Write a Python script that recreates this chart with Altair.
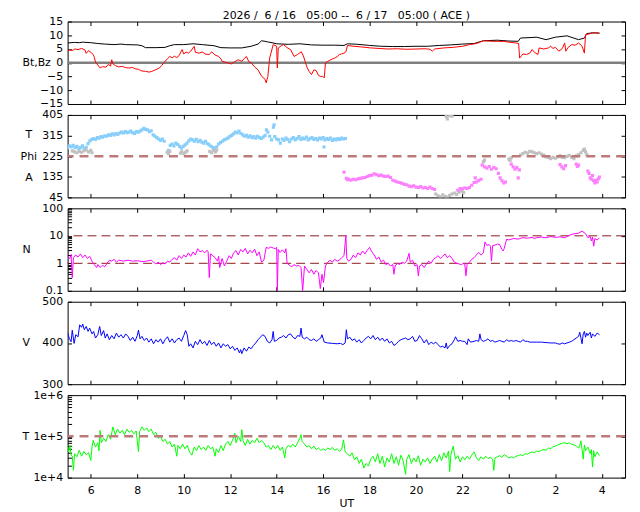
import altair as alt
import pandas as pd

# ---------------- data (hours since 6/16 00:00 UT; 24+ = 6/17) ----------------
hour_ticks = [6, 8, 10, 12, 14, 16, 18, 20, 22, 24, 26, 28]

bt = [(5.0,7.2),(5.3,7.4),(5.5,7.3),(5.65,7.5),(6.0,7.3),(6.3,7.0),(6.6,6.8),(7.0,6.6),(7.3,6.8),(7.5,6.6),(8.0,6.5),(8.2,6.2),(8.35,5.5),
      (8.8,5.5),(9.2,5.6),(9.4,6.2),(9.6,6.6),(10.0,6.6),(10.4,6.9),(10.8,6.6),(11.3,6.2),(11.6,5.5),(12.0,5.4),(12.5,5.4),(12.9,6.0),
      (13.2,6.8),(13.35,8.0),(13.5,7.8),(13.6,7.6),(13.8,7.3),(14.0,6.9),(14.5,6.7),(15.0,6.9),(15.5,6.5),(16.0,6.4),(16.5,6.4),
      (16.9,6.3),(17.05,6.9),(17.5,6.7),(18.0,6.3),(18.5,6.0),(19.0,5.9),(19.5,5.9),(20.0,6.0),(20.5,6.0),(21.0,6.3),
      (21.5,6.5),(22.0,6.8),(22.5,7.0),(22.9,8.0),(23.5,8.2),(24.0,7.9),(24.4,7.8),(24.5,9.0),(25.0,9.2),(25.2,9.3),
      (25.6,8.4),(26.0,9.3),(26.5,9.8),(27.0,8.4),(27.25,9.0),(27.35,10.6),(27.6,10.9),(27.9,10.8)]

bz = [(5.0,4.2),(5.1,4.7),(5.2,4.4),(5.3,5.0),(5.45,4.8),(5.6,5.2),(5.66,5.0),(5.75,4.6),(5.8,3.4),(5.9,4.4),
      (6.0,3.8),(6.1,3.0),(6.15,2.0),(6.2,0.2),(6.3,-0.8),(6.4,-1.9),(6.5,-1.4),(6.65,-1.6),(6.75,-0.6),(6.85,-1.2),
      (6.9,1.1),(6.95,-0.4),(7.05,-1.0),(7.2,-1.5),(7.35,-1.3),(7.5,-1.8),(7.65,-1.9),(7.8,-1.7),(7.9,-2.2),(8.05,-2.4),
      (8.2,-3.0),(8.35,-3.1),(8.5,-3.4),(8.6,-3.2),(8.75,-2.7),(8.95,-1.9),(9.05,-1.0),(9.2,0.5),(9.3,1.5),(9.4,2.3),
      (9.5,1.8),(9.6,2.4),(9.7,1.9),(9.8,2.6),(9.93,4.8),(10.0,3.2),(10.1,3.9),(10.2,3.5),(10.3,4.2),(10.45,6.0),
      (10.5,3.8),(10.65,3.5),(10.8,3.9),(10.95,3.1),(11.1,3.0),(11.2,4.0),(11.35,2.8),(11.5,2.3),(11.6,1.4),(11.65,0.5),
      (11.8,0.2),(11.95,-0.2),(12.05,-0.4),(12.2,0.4),(12.35,1.1),(12.5,0.5),(12.6,1.5),(12.7,2.3),(12.8,0.4),(12.9,0.0),
      (13.05,-1.5),(13.2,-2.6),(13.35,-4.9),(13.5,-6.0),(13.55,-7.3),(13.62,-5.0),(13.7,1.7),(13.85,6.6),(14.0,6.0),(14.03,-1.9),
      (14.07,5.4),(14.2,6.2),(14.3,6.6),(14.45,5.5),(14.6,4.8),(14.75,2.3),(14.9,3.0),(15.06,4.0),(15.15,2.5),(15.3,-1.5),
      (15.4,-3.2),(15.5,-4.3),(15.6,-2.6),(15.7,-2.8),(15.8,-4.6),(15.9,-5.0),(15.98,-4.9),(16.05,-5.5),(16.1,0.0),(16.2,0.5),
      (16.35,1.2),(16.5,1.7),(16.6,2.2),(16.7,3.0),(16.8,3.2),(16.9,3.5),(16.98,4.0),(17.05,6.3),(17.3,6.0),(17.6,5.8),
      (18.05,5.4),(18.4,5.2),(18.8,5.0),(19.2,5.1),(19.6,4.9),(20.0,5.0),(20.4,5.1),(20.6,4.9),(20.7,4.2),(20.8,5.0),
      (21.2,5.4),(21.6,5.6),(22.0,6.0),(22.3,6.6),(22.6,7.0),(22.9,8.0),(23.3,7.8),(23.75,7.8),(24.0,7.5),(24.3,7.2),
      (24.42,7.0),(24.46,1.7),(24.55,2.6),(24.6,3.2),(24.75,3.0),(24.9,3.5),(25.0,4.8),(25.1,3.8),(25.25,3.0),(25.3,5.4),
      (25.5,5.0),(25.7,5.4),(25.8,6.0),(25.9,5.2),(26.0,5.6),(26.15,4.2),(26.3,5.2),(26.4,7.2),(26.45,4.2),(26.55,5.6),
      (26.7,6.6),(26.85,6.4),(27.0,7.2),(27.15,6.0),(27.25,3.5),(27.3,10.2),(27.5,10.6),(27.7,10.9),(27.9,10.7)]

phi_blue = [(5.0,262),(5.08,270),(5.16,266),(5.24,272),(5.32,262),(5.4,268),(5.48,258),(5.56,262),(5.64,270),(5.72,258),
            (5.8,264),(5.88,280),(5.96,292),(6.04,298),(6.12,302),(6.2,298),(6.28,306),(6.36,304),(6.44,310),(6.52,308),
            (6.6,314),(6.68,312),(6.76,318),(6.84,316),(6.92,322),(7.0,318),(7.08,324),(7.16,320),(7.24,326),(7.32,330),
            (7.4,326),(7.48,332),(7.56,328),(7.64,330),(7.72,334),(7.8,328),(7.88,324),(7.96,332),(8.04,330),(8.12,334),
            (8.2,340),(8.28,346),(8.36,342),(8.44,340),(8.52,332),(8.6,336),(8.68,318),(8.76,312),(8.84,306),(8.92,300),
            (9.0,294),(9.08,300),(9.16,290),(9.34,250),(9.42,272),(9.5,278),(9.58,270),(9.66,282),(9.74,276),(9.82,268),
            (9.9,260),(9.98,268),(10.06,274),(10.14,282),(10.22,292),(10.3,300),(10.38,296),(10.46,290),(10.54,298),(10.62,288),
            (10.7,294),(10.78,286),(10.86,282),(10.94,290),(11.02,280),(11.1,274),(11.18,268),(11.26,262),(11.34,258),(11.42,266),
            (11.5,278),(11.58,284),(11.66,290),(11.74,296),(11.82,300),(11.9,304),(11.98,310),(12.06,316),(12.14,322),(12.22,330),
            (12.3,326),(12.38,334),(12.46,324),(12.54,318),(12.62,312),(12.7,316),(12.78,308),(12.86,314),(12.94,306),(13.02,310),
            (13.1,304),(13.18,312),(13.26,306),(13.34,302),(13.42,308),(13.5,316),(13.56,340),(13.62,330),(13.7,312),(13.78,296),
            (13.86,352),(13.89,362),(13.92,310),(14.0,300),(14.08,296),(14.16,282),(14.24,300),(14.32,294),(14.4,304),(14.48,298),
            (14.56,288),(14.64,300),(14.72,306),(14.8,296),(14.88,302),(14.96,310),(15.04,298),(15.12,304),(15.2,300),(15.28,308),
            (15.36,296),(15.44,302),(15.52,306),(15.6,298),(15.68,302),(15.76,296),(15.84,304),(15.92,300),(16.0,306),(16.04,265),
            (16.08,296),(16.16,302),(16.24,298),(16.32,304),(16.4,294),(16.48,300),(16.56,296),(16.64,302),(16.72,298),(16.8,304),
            (16.88,300),(16.96,302)]

phi_gray = [(5.2,248),(5.3,244),(5.4,240),(5.5,246),(5.6,242),(5.7,248),(5.8,252),(5.9,244),(6.0,250),(6.05,240),
            (9.28,242),(9.34,236),(9.4,246),(9.86,238),(9.92,244),(10.0,236),(10.08,242),(10.14,248),
            (11.12,246),(11.2,240),(11.28,250),(11.36,244),(11.42,252),
            (20.85,60),(20.95,52),(21.05,48),(21.15,56),(21.25,50),(21.35,46),(21.45,54),(21.55,60),(21.65,64),(21.75,58),
            (21.85,68),(21.95,72),(22.05,66),(21.3,398),(21.35,388),(21.45,402),(21.55,400),
            (22.9,200),(22.95,208),(24.0,212),(24.05,206),(24.1,218),
            (24.5,230),(24.6,236),(24.7,242),(24.8,238),(24.9,246),(25.0,244),(25.1,240),(25.2,236),(25.3,240),(25.4,234),
            (25.5,230),(25.6,222),(25.7,218),(25.8,214),(25.9,220),(26.0,216),(26.1,222),(26.2,226),(26.3,220),(26.4,218),
            (26.5,224),(26.6,228),(26.7,220),(26.8,214),(26.9,226),(27.0,232),(27.1,240),(27.2,250),(27.25,256),(27.3,244),
            (27.35,232)]

phi_mag = [(16.9,155),(17.0,128),(17.05,122),(17.1,125),(17.2,120),(17.3,124),(17.4,122),(17.5,126),(17.6,128),(17.7,130),
           (17.8,132),(17.9,136),(18.0,140),(18.1,142),(18.2,148),(18.3,144),(18.4,140),(18.5,142),(18.6,138),(18.7,136),
           (18.8,138),(18.9,132),(19.0,120),(19.1,116),(19.2,112),(19.3,110),(19.4,106),(19.5,102),(19.6,100),(19.7,94),
           (19.8,92),(19.9,96),(20.0,90),(20.1,88),(20.2,92),(20.3,86),(20.4,88),(20.5,84),(20.6,90),(20.7,84),
           (20.8,80),(21.8,76),(21.9,84),(22.0,82),(22.1,86),(22.2,84),(22.3,88),(22.4,98),(22.5,110),(22.55,130),
           (22.6,112),(22.7,118),(22.8,124),(22.85,186),(22.95,178),(23.05,172),(23.15,180),(23.25,168),(23.35,176),(23.45,170),
           (23.55,150),(23.62,130),(23.7,118),(23.78,108),(23.85,112),(24.1,190),(24.18,178),(24.26,168),(24.34,175),(24.4,130),
           (24.45,165),(26.2,188),(26.28,178),(26.36,170),(26.44,184),(26.9,190),(26.95,180),(27.0,186),
           (27.4,160),(27.45,150),(27.5,130),(27.55,124),(27.6,140),(27.65,118),(27.7,108),(27.75,120),(27.8,112),(27.85,126),
           (27.9,134)]

dens = [(5.0,1.8),(5.1,1.5),(5.15,2.1),(5.2,0.3),(5.25,1.6),(5.35,2.0),(5.45,1.7),(5.55,2.2),(5.65,1.6),(5.75,2.0),
        (5.85,1.5),(5.95,1.8),(6.05,1.2),(6.15,0.9),(6.25,0.7),(6.3,0.9),(6.4,0.7),(6.5,0.85),(6.6,0.75),(6.7,1.0),
        (6.8,1.3),(6.9,1.2),(7.0,1.4),(7.1,1.1),(7.2,1.3),(7.4,1.2),(7.6,1.3),(7.8,1.2),(8.0,1.25),(8.2,1.15),
        (8.4,1.2),(8.6,1.3),(8.7,1.1),(8.8,0.95),(8.9,1.1),(9.0,0.9),(9.1,1.05),(9.2,0.95),(9.3,1.2),(9.4,1.1),
        (9.5,1.4),(9.6,1.6),(9.7,1.3),(9.8,1.9),(9.9,1.5),(10.0,2.0),(10.1,1.7),(10.2,2.4),(10.3,1.8),(10.4,2.6),
        (10.5,2.0),(10.6,3.4),(10.7,2.6),(10.8,2.9),(10.9,2.4),(11.0,3.0),(11.05,2.6),(11.1,0.3),(11.15,2.2),(11.25,1.9),
        (11.35,1.6),(11.45,1.2),(11.5,1.8),(11.55,0.7),(11.65,1.5),(11.75,0.8),(11.85,1.2),(11.95,1.9),(12.05,1.5),(12.15,2.4),
        (12.25,2.9),(12.35,2.0),(12.45,3.2),(12.55,2.6),(12.65,3.5),(12.75,2.2),(12.85,3.0),(12.95,2.4),(13.05,3.3),(13.15,1.9),
        (13.25,2.6),(13.35,1.1),(13.45,1.3),(13.55,3.8),(13.65,3.5),(13.75,3.9),(13.85,3.6),(13.95,3.4),(14.0,3.8),(14.03,0.1),
        (14.07,3.2),(14.15,2.5),(14.25,3.1),(14.35,2.4),(14.4,3.4),(14.45,1.0),(14.55,0.85),(14.65,0.75),(14.75,0.9),(14.85,0.8),
        (14.95,0.85),(15.05,0.7),(15.12,0.1),(15.2,0.8),(15.3,0.6),(15.4,0.45),(15.5,0.6),(15.6,0.4),(15.7,0.55),(15.8,0.45),
        (15.88,0.12),(15.95,0.4),(16.02,0.2),(16.1,0.8),(16.2,1.1),(16.3,1.3),(16.4,1.1),(16.5,1.4),(16.6,1.2),(16.7,1.3),
        (16.8,1.6),(16.9,1.9),(16.98,10.2),(17.02,1.5),(17.1,1.2),(17.2,1.4),(17.3,2.0),(17.4,1.6),(17.5,2.4),(17.6,2.0),
        (17.7,2.8),(17.8,2.2),(17.9,3.0),(18.0,3.8),(18.1,2.6),(18.2,2.0),(18.3,1.4),(18.4,1.7),(18.5,1.1),(18.6,1.3),
        (18.7,0.9),(18.8,1.0),(18.9,0.8),(19.0,0.9),(19.05,0.4),(19.1,0.8),(19.2,1.0),(19.3,0.9),(19.4,1.1),(19.5,1.0),
        (19.6,1.2),(19.7,2.3),(19.75,1.1),(19.85,1.3),(19.95,0.8),(20.05,0.9),(20.1,0.35),(20.15,0.8),(20.25,0.9),(20.35,0.7),
        (20.45,0.95),(20.55,1.2),(20.65,1.0),(20.75,1.4),(20.85,1.6),(20.95,1.9),(21.05,1.5),(21.15,1.8),(21.25,2.2),(21.35,1.6),
        (21.45,1.9),(21.55,1.5),(21.65,1.1),(21.75,1.0),(21.85,0.95),(21.95,0.9),(22.05,1.0),(22.1,0.95),(22.15,0.35),(22.2,0.9),
        (22.3,1.1),(22.4,1.4),(22.5,1.6),(22.6,2.0),(22.7,2.5),(22.8,2.0),(22.9,2.4),(22.97,6.0),(23.05,4.5),(23.15,4.8),
        (23.2,4.2),(23.25,1.2),(23.3,4.4),(23.4,4.6),(23.5,5.0),(23.6,4.8),(23.7,3.2),(23.75,2.8),(23.8,3.5),(23.9,7.5),
        (24.0,7.1),(24.2,8.0),(24.4,7.6),(24.6,8.6),(24.8,8.2),(25.0,8.8),(25.1,8.0),(25.2,8.6),(25.4,9.0),(25.6,8.5),
        (25.8,9.4),(26.0,8.8),(26.2,9.2),(26.4,8.5),(26.6,10.5),(26.8,11.8),(27.0,12.5),(27.15,14.8),(27.3,12.0),(27.4,8.5),
        (27.5,9.5),(27.55,6.5),(27.6,9.0),(27.65,4.2),(27.7,8.0),(27.8,7.0),(27.9,8.5)]

speed = [(5.0,424),(5.08,410),(5.15,403),(5.2,431),(5.28,399),(5.35,420),(5.45,415),(5.52,444),(5.6,438),(5.65,446),
         (5.72,432),(5.8,440),(5.88,428),(5.95,436),(6.05,422),(6.12,428),(6.2,412),(6.3,420),(6.38,440),(6.45,418),
         (6.55,430),(6.62,412),(6.7,422),(6.8,408),(6.9,418),(7.0,410),(7.1,424),(7.2,414),(7.3,420),(7.4,412),
         (7.5,422),(7.6,416),(7.7,406),(7.8,414),(7.9,404),(8.0,418),(8.05,431),(8.12,410),(8.2,416),(8.3,406),
         (8.4,412),(8.5,402),(8.6,410),(8.7,398),(8.8,408),(8.9,402),(9.0,410),(9.1,398),(9.2,408),(9.3,415),
         (9.4,402),(9.5,410),(9.6,400),(9.7,408),(9.8,412),(9.9,404),(10.0,418),(10.08,430),(10.15,420),(10.22,392),
         (10.3,398),(10.4,388),(10.5,404),(10.6,396),(10.7,408),(10.8,398),(10.9,404),(11.0,394),(11.1,406),(11.2,396),
         (11.3,402),(11.4,392),(11.5,400),(11.6,388),(11.7,398),(11.8,392),(11.9,396),(12.0,386),(12.1,392),(12.2,382),
         (12.3,388),(12.4,376),(12.45,384),(12.5,374),(12.6,388),(12.7,380),(12.8,390),(12.9,386),(13.0,394),(13.1,400),
         (13.2,408),(13.3,414),(13.4,420),(13.5,416),(13.6,404),(13.7,400),(13.8,408),(13.85,428),(13.9,404),(14.0,406),
         (14.1,412),(14.2,414),(14.3,418),(14.4,412),(14.5,420),(14.6,422),(14.7,414),(14.8,410),(14.9,418),(15.0,416),
         (15.05,436),(15.1,414),(15.2,410),(15.3,414),(15.4,408),(15.5,406),(15.6,410),(15.7,404),(15.8,408),(15.9,412),
         (15.95,420),(16.05,402),(16.2,400),(16.4,399),(16.6,398),(16.75,399),(16.85,396),(16.95,400),(17.0,432),(17.05,410),
         (17.15,414),(17.25,406),(17.35,410),(17.45,402),(17.55,408),(17.65,400),(17.75,406),(17.85,412),(17.95,416),(18.05,410),
         (18.15,418),(18.25,408),(18.35,414),(18.45,406),(18.55,412),(18.65,404),(18.75,410),(18.85,400),(18.95,404),(19.05,394),
         (19.15,398),(19.25,404),(19.35,408),(19.45,410),(19.55,412),(19.65,408),(19.75,410),(19.85,416),(19.95,404),(20.05,406),
         (20.15,418),(20.25,410),(20.35,400),(20.45,408),(20.55,396),(20.65,402),(20.75,398),(20.85,402),(20.95,396),(21.05,390),
         (21.15,392),(21.25,388),(21.3,400),(21.35,386),(21.45,394),(21.55,398),(21.65,408),(21.7,415),(21.8,404),(21.9,406),
         (22.0,404),(22.1,404),(22.2,396),(22.25,410),(22.35,402),(22.5,404),(22.6,406),(22.7,404),(22.75,422),(22.8,408),
         (22.9,404),(23.0,406),(23.1,410),(23.2,404),(23.3,406),(23.4,402),(23.5,404),(23.6,406),(23.7,404),(23.8,402),
         (23.9,408),(24.0,404),(24.1,406),(24.2,404),(24.3,406),(24.4,404),(24.5,402),(24.6,408),(24.7,404),(24.8,404),
         (24.9,402),(25.0,402),(25.2,402),(25.4,402),(25.6,401),(25.8,400),(26.0,400),(26.1,398),(26.2,397),(26.3,400),
         (26.4,398),(26.5,400),(26.6,402),(26.7,404),(26.8,408),(26.9,412),(27.0,416),(27.05,426),(27.1,412),(27.15,398),
         (27.2,422),(27.25,428),(27.3,414),(27.35,424),(27.4,418),(27.5,426),(27.55,412),(27.6,422),(27.7,416),(27.8,424),
         (27.9,420)]

temp = [(5.0,5.7e4),(5.05,4.2e4),(5.1,6e4),(5.15,3.5e4),(5.2,3.3e4),(5.25,1.5e4),(5.3,3.8e4),(5.4,3.2e4),(5.5,4.6e4),(5.6,3.3e4),
        (5.7,4.3e4),(5.8,3.6e4),(5.9,4.0e4),(6.0,2.6e4),(6.05,5.5e4),(6.1,8e4),(6.2,5.5e4),(6.3,7e4),(6.35,4.5e4),(6.4,1.4e5),
        (6.45,7e4),(6.55,9e4),(6.65,7.5e4),(6.75,1.1e5),(6.85,8.5e4),(6.95,1.7e5),(7.05,1.1e5),(7.15,1.5e5),(7.25,1.2e5),(7.35,1.4e5),
        (7.45,1.1e5),(7.55,1.5e5),(7.65,1.25e5),(7.75,1.4e5),(7.85,1.15e5),(7.95,1.35e5),(8.05,4.3e4),(8.1,1.3e5),(8.2,1.7e5),(8.3,1.4e5),
        (8.4,1.6e5),(8.5,1.3e5),(8.6,1.5e5),(8.7,1.1e5),(8.8,1.25e5),(8.9,9e4),(9.0,1.0e5),(9.1,7.5e4),(9.2,8.5e4),(9.3,6.5e4),
        (9.4,7.5e4),(9.5,5.5e4),(9.6,6.5e4),(9.7,3.3e4),(9.75,6e4),(9.85,5e4),(9.95,6.5e4),(10.05,5e4),(10.15,6e4),(10.25,4.2e4),
        (10.35,3.5e4),(10.45,5.5e4),(10.55,4.5e4),(10.65,6e4),(10.75,4.8e4),(10.85,5.5e4),(10.95,4.6e4),(11.05,6e4),(11.15,5e4),(11.25,5.5e4),
        (11.35,3.3e4),(11.4,5e4),(11.5,4e4),(11.6,6e4),(11.7,4.5e4),(11.8,6.5e4),(11.9,7.5e4),(12.0,6e4),(12.1,8e4),(12.2,1.2e5),
        (12.25,7e4),(12.35,1.0e5),(12.45,7.5e4),(12.5,1.45e5),(12.55,8e4),(12.65,6e4),(12.75,8.5e4),(12.85,6.5e4),(12.95,8e4),(13.05,7e4),
        (13.15,9e4),(13.25,7e4),(13.35,8e4),(13.45,7e4),(13.55,5.5e4),(13.65,6e4),(13.75,4.8e4),(13.85,6e4),(13.95,5e4),(14.05,6e4),
        (14.15,4.6e4),(14.25,5.5e4),(14.35,3.0e4),(14.4,5e4),(14.5,6e4),(14.6,5.5e4),(14.7,6.5e4),(14.8,5.5e4),(14.9,7e4),(15.0,9e4),
        (15.05,1.1e5),(15.1,7.5e4),(15.2,6.5e4),(15.3,5.5e4),(15.4,6e4),(15.5,5e4),(15.6,5.8e4),(15.7,4.8e4),(15.8,5.2e4),(15.9,4.6e4),
        (16.0,5e4),(16.1,4.6e4),(16.2,5.2e4),(16.3,4.8e4),(16.4,5.4e4),(16.5,4.6e4),(16.6,5e4),(16.7,4.4e4),(16.8,4.8e4),(16.88,8.2e4),
        (16.95,4.2e4),(17.05,3.8e4),(17.15,3.3e4),(17.25,4e4),(17.35,2.7e4),(17.45,3.2e4),(17.55,2.2e4),(17.65,2.8e4),(17.75,1.7e4),(17.85,2.2e4),
        (17.95,1.9e4),(18.05,2.8e4),(18.15,3.3e4),(18.25,2.4e4),(18.35,3.8e4),(18.45,2.2e4),(18.55,3.3e4),(18.65,1.8e4),(18.75,3e4),(18.85,2.4e4),
        (18.95,3.8e4),(19.05,2.2e4),(19.15,3.2e4),(19.25,2.0e4),(19.35,3.5e4),(19.45,2.5e4),(19.55,1.2e4),(19.6,2.8e4),(19.7,3.6e4),(19.8,2.2e4),
        (19.9,3e4),(20.0,2.4e4),(20.1,3.4e4),(20.2,2e4),(20.3,2.8e4),(20.4,2.4e4),(20.5,3e4),(20.6,2.2e4),(20.7,2.8e4),(20.8,3.3e4),
        (20.9,2.4e4),(21.0,3.6e4),(21.1,2.6e4),(21.2,4e4),(21.3,3e4),(21.4,4.4e4),(21.45,1.4e4),(21.5,3.5e4),(21.6,5.8e4),(21.7,2.8e4),
        (21.8,3.4e4),(21.9,2.4e4),(22.0,3.2e4),(22.1,2.7e4),(22.2,3.3e4),(22.3,2.8e4),(22.4,3.5e4),(22.5,4.2e4),(22.6,3e4),(22.7,2.6e4),
        (22.8,3.2e4),(22.9,2.8e4),(23.0,3.3e4),(23.1,2.9e4),(23.2,3.1e4),(23.3,2.8e4),(23.35,1.5e4),(23.4,3e4),(23.5,3.2e4),(23.6,3.4e4),
        (23.7,3.1e4),(23.8,3.6e4),(23.9,3.3e4),(24.0,3.0e4),(24.1,3.2e4),(24.2,3.0e4),(24.3,3.3e4),(24.4,3.4e4),(24.5,3.6e4),(24.6,3.4e4),
        (24.7,3.8e4),(24.8,3.7e4),(24.9,4e4),(25.0,4.2e4),(25.1,4e4),(25.2,4.4e4),(25.3,4.3e4),(25.4,4.6e4),(25.5,4.8e4),(25.6,4.6e4),
        (25.7,5.2e4),(25.8,5.0e4),(25.9,5.6e4),(26.0,5.8e4),(26.1,6.2e4),(26.2,6.5e4),(26.3,6.8e4),(26.4,7e4),(26.5,6.6e4),(26.6,7e4),
        (26.7,6.4e4),(26.8,6.2e4),(26.9,5.8e4),(27.0,5.2e4),(27.05,6e4),(27.1,7.8e4),(27.15,4.8e4),(27.2,2.8e4),(27.25,6.2e4),(27.3,4.5e4),
        (27.4,5.5e4),(27.5,3.8e4),(27.55,4.8e4),(27.6,1.8e4),(27.65,4.5e4),(27.7,3.2e4),(27.8,4.2e4),(27.9,3.4e4)]

bz_ref = [0]
phi_ref = [225]
n_ref = [1, 10]
t_ref = [1e5]

b_ticks = [-15, -10, -5, 0, 5, 10, 15]
phi_ticks = [45, 135, 225, 315, 405]
n_major = [0.1, 1, 10, 100]
n_ticks = [0.1,0.2,0.3,0.4,0.5,0.6,0.7,0.8,0.9,1,2,3,4,5,6,7,8,9,10,20,30,40,50,60,70,80,90,100]
v_ticks = [300, 400, 500]
t_major = [1e4, 1e5, 1e6]
t_ticks = [1e4,2e4,3e4,4e4,5e4,6e4,7e4,8e4,9e4,1e5,2e5,3e5,4e5,5e5,6e5,7e5,8e5,9e5,1e6]

TITLE = "2026 /  6 / 16   05:00 --  6 / 17   05:00 ( ACE )".replace(" ", "\u00a0")

# ---------------- chart ----------------
W, H = 561, 83
FONT = "DejaVu Sans"
XS = alt.Scale(domain=[5, 29], nice=False, zero=False)


def frame(rows):
    return pd.DataFrame(rows, columns=["t", "v"])


def x_bottom(last):
    kw = dict(orient="bottom", values=hour_ticks, offset=-4, tickSize=4, domain=False, grid=False,
              labels=last, labelPadding=7, labelFlush=False, labelExpr="datum.value % 24")
    if last:
        kw.update(title="UT", titlePadding=2)
    else:
        kw.update(title=None)
    return alt.X("t:Q", scale=XS, axis=alt.Axis(**kw))


def y_left(ys, values, title, label_expr=None, title_x=-50, align="left", title_y=H / 2):
    kw = dict(orient="left", values=values, offset=-4, tickSize=4, domain=False, grid=False,
              labelPadding=5, labelOverlap=False, labelFlush=False,
              title=title, titleAngle=0, titleAlign=align, titleBaseline="middle",
              titleX=title_x, titleY=title_y, titleLineHeight=21.5)
    if label_expr:
        kw["labelExpr"] = label_expr
    return alt.Y("v:Q", scale=ys, axis=alt.Axis(**kw))


def frame_axes(data, ys, majors):
    return alt.Chart(data).mark_point(opacity=0).encode(
        x=alt.X("t:Q", scale=XS, axis=alt.Axis(orient="top", values=hour_ticks, offset=-4, tickSize=4,
                                               domain=False, grid=False, labels=False, title=None)),
        y=alt.Y("v:Q", scale=ys, axis=alt.Axis(orient="right", values=majors, offset=-4, tickSize=4,
                                               domain=False, grid=False, labels=False, title=None)),
    )


def rule(vals, ys, color, width, dash=None):
    kw = dict(color=color, strokeWidth=width)
    if dash:
        kw["strokeDash"] = dash
    return alt.Chart(pd.DataFrame({"v": vals})).mark_rule(**kw).encode(
        y=alt.Y("v:Q", scale=ys, axis=None))


def line(data, ys, color):
    return alt.Chart(data).mark_line(color=color, strokeWidth=1, clip=True).encode(
        x=alt.X("t:Q", scale=XS, axis=None), y=alt.Y("v:Q", scale=ys, axis=None))


def panel(layers):
    return alt.layer(*layers).resolve_axis(x="independent", y="independent").properties(width=W, height=H)


# Panel 1: Bt, Bz
ys1 = alt.Scale(domain=[-15, 15], nice=False, zero=False)
bt_df, bz_df = frame(bt), frame(bz)
p1 = panel([
    rule(bz_ref, ys1, "#808080", 2.5),
    alt.Chart(bt_df).mark_line(color="black", strokeWidth=1, clip=True).encode(
        x=x_bottom(False), y=y_left(ys1, b_ticks, "Bt,Bz")),
    line(bz_df, ys1, "#ff0000"),
    frame_axes(bt_df, ys1, b_ticks),
])

# Panel 2: Phi
ys2 = alt.Scale(domain=[45, 405], nice=False, zero=False)
blue_df, gray_df, mag_df = frame(phi_blue), frame(phi_gray), frame(phi_mag)


def pts(data, color, axes=False):
    enc = dict(x=alt.X("t:Q", scale=XS, axis=None), y=alt.Y("v:Q", scale=ys2, axis=None))
    if axes:
        enc = dict(x=x_bottom(False),
                   y=y_left(ys2, phi_ticks, ["T", "Phi", "A"], title_x=-43.5, align="center",
                            title_y=H / 2 - 21.5))
    return alt.Chart(data).mark_square(color=color, size=10, opacity=1, clip=True).encode(**enc)


p2 = panel([
    pts(blue_df, "#87cefa", axes=True),
    pts(gray_df, "#c0c0c0"),
    pts(mag_df, "#ff80ff"),
    rule(phi_ref, ys2, "#bc7a7a", 2.5, [9, 6]),
    frame_axes(blue_df, ys2, phi_ticks),
])

# Panel 3: N
ys3 = alt.Scale(type="log", domain=[0.1, 100], nice=False, zero=False)
n_df = frame(dens)
n_lab = "datum.value==0.1?'0.1':datum.value==1?'1':datum.value==10?'10':datum.value==100?'100':''"
p3 = panel([
    rule(n_ref, ys3, "#8b1a1a", 1, [9, 5]),
    alt.Chart(n_df).mark_line(color="#ff00ff", strokeWidth=1, clip=True).encode(
        x=x_bottom(False), y=y_left(ys3, n_ticks, "N", label_expr=n_lab)),
    frame_axes(n_df, ys3, n_major),
])

# Panel 4: V
ys4 = alt.Scale(domain=[300, 500], nice=False, zero=False)
v_df = frame(speed)
p4 = panel([
    alt.Chart(v_df).mark_line(color="#0000ff", strokeWidth=1, clip=True).encode(
        x=x_bottom(False), y=y_left(ys4, v_ticks, "V")),
    frame_axes(v_df, ys4, v_ticks),
])

# Panel 5: T
ys5 = alt.Scale(type="log", domain=[1e4, 1e6], nice=False, zero=False)
t_df = frame(temp)
t_lab = "datum.value==10000?'1e+4':datum.value==100000?'1e+5':datum.value==1000000?'1e+6':''"
p5 = panel([
    alt.Chart(t_df).mark_line(color="#00ff00", strokeWidth=1, clip=True).encode(
        x=x_bottom(True), y=y_left(ys5, t_ticks, "T", label_expr=t_lab)),
    rule(t_ref, ys5, "#bc7a7a", 2.5, [9, 6]),
    frame_axes(t_df, ys5, t_major),
])

chart = alt.vconcat(p1, p2, p3, p4, p5, spacing=11, bounds="flush").properties(
    title=alt.TitleParams(text=TITLE, font=FONT, fontSize=11, fontWeight="normal", color="black",
                          anchor="middle", frame="group", offset=-5.5),
    padding={"left": 11, "top": 0, "right": 5, "bottom": 0},
).configure_view(stroke="black", strokeWidth=1).configure_axis(
    labelFont=FONT, labelFontSize=11, labelColor="black", tickColor="black", tickWidth=1,
    titleFont=FONT, titleFontSize=11, titleFontWeight="normal", titleColor="black",
)

chart.save("out.html", embed_options={"renderer": "svg", "actions": False})
